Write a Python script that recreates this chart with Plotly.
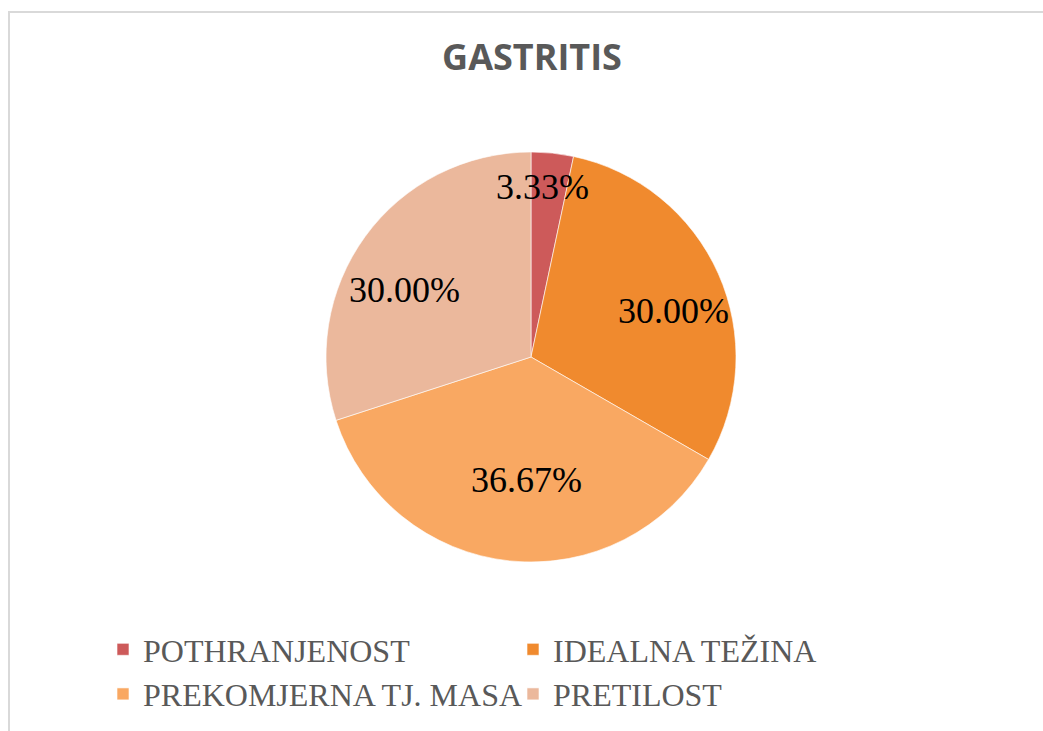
import math
import plotly.graph_objects as go

CATEGORIES = ['POTHRANJENOST', 'IDEALNA TEŽINA', 'PREKOMJERNA TJ. MASA', 'PRETILOST']
PERCENTS = [3.33, 30.00, 36.67, 30.00]
COLORS = ['#cd5a5a', '#f08a2e', '#f9a862', '#ebb89c']

W, H = 1043, 731
# pie geometry in pixels
CX, CY, R = 531, 357, 205
LABEL_RADIUS = [0.83, 0.73, 0.6, 0.7]
LABEL_SHIFT_DEG = [-2, 6, -4, -8]


def to_paper(px, py):
    return px / W, 1 - py / H


fig = go.Figure()
x0, y0 = to_paper(CX - R, CY + R)
x1, y1 = to_paper(CX + R, CY - R)
fig.add_trace(go.Pie(
    labels=CATEGORIES,
    values=PERCENTS,
    sort=False,
    direction='clockwise',
    rotation=0,
    textinfo='none',
    hoverinfo='label+percent',
    marker=dict(colors=COLORS, line=dict(color='rgba(255,255,255,0.6)', width=1)),
    domain=dict(x=[x0, x1], y=[y0, y1]),
))

# percent labels placed along each slice's middle angle
total = sum(PERCENTS)
cum = 0
for val, frac, shift in zip(PERCENTS, LABEL_RADIUS, LABEL_SHIFT_DEG):
    mid = math.radians((cum + val / 2) / total * 360 + shift)
    cum += val
    ax, ay = to_paper(CX + frac * R * math.sin(mid), CY - frac * R * math.cos(mid))
    fig.add_annotation(
        x=ax, y=ay, xref='paper', yref='paper', xanchor='center', yanchor='middle',
        text=f'{val:.2f}%', showarrow=False,
        font=dict(family='Liberation Serif', size=36, color='black'),
    )

tx, ty = to_paper(532, 57)
lx, ly = to_paper(103, 622)
bx0, by0 = to_paper(9, 12)
fig.update_layout(
    width=W, height=H,
    margin=dict(l=0, r=0, t=0, b=0),
    paper_bgcolor='white',
    plot_bgcolor='white',
    title=dict(
        text='<b>GASTRITIS</b>', x=tx, xanchor='center', y=ty, yanchor='middle',
        font=dict(family='Open Sans', size=36, color='#595959'),
    ),
    legend=dict(
        orientation='h', x=lx, xanchor='left', y=ly, yanchor='top',
        entrywidth=365, entrywidthmode='pixels',
        font=dict(family='Liberation Serif', size=32, color='#595959'),
    ),
    shapes=[dict(
        type='rect', xref='paper', yref='paper',
        x0=bx0, x1=1.05, y0=-0.05, y1=by0,
        line=dict(color='#d9d9d9', width=2),
    )],
)

# drop the browser's default body margin so the figure fills the window
fig.write_html('out.html', config={'displayModeBar': False},
               post_script="document.body.style.margin='0';")
